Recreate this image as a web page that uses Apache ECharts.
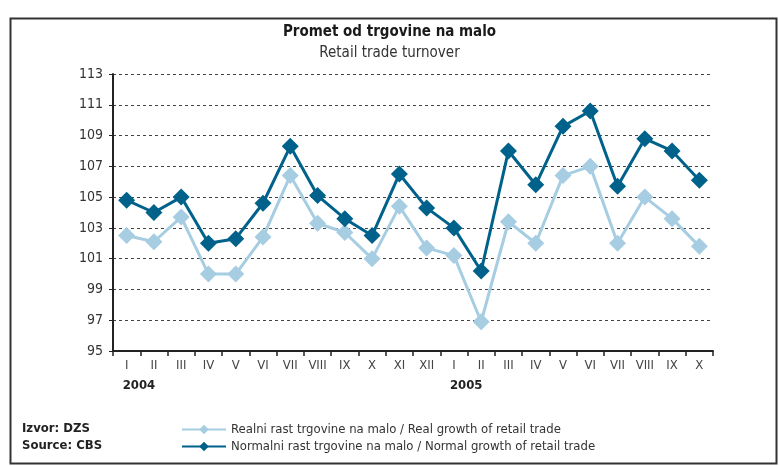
<!DOCTYPE html>
<html>
<head>
<meta charset="utf-8">
<script src="https://cdn.jsdelivr.net/npm/echarts@6/dist/echarts.min.js"></script>
<style>
  html, body { margin: 0; padding: 0; background: #fff; }
  #main { width: 779px; height: 466px; }
</style>
</head>
<body>
<div id="main"></div>
<script>
var months = ['I','II','III','IV','V','VI','VII','VIII','IX','X','XI','XII',
              'I','II','III','IV','V','VI','VII','VIII','IX','X'];
var years = {0: '2004', 12: '2005'};
var realGrowth = [102.5, 102.1, 103.7, 100.0, 100.0, 102.4, 106.4, 103.3, 102.7, 101.0, 104.4, 101.7,
                  101.2, 96.9, 103.4, 102.0, 106.4, 107.0, 102.0, 105.0, 103.6, 101.8];
var normalGrowth = [104.8, 104.0, 105.0, 102.0, 102.3, 104.6, 108.3, 105.1, 103.6, 102.5, 106.5, 104.3,
                    103.0, 100.2, 108.0, 105.8, 109.6, 110.6, 105.7, 108.8, 108.0, 106.1];

var font = '"Liberation Sans Narrow", "DejaVu Sans Condensed", sans-serif';
var lightBlue = '#a6cde1';
var darkBlue = '#00628b';

var myChart = echarts.init(document.getElementById('main'));
myChart.setOption({
  backgroundColor: '#fff',
  animation: false,
  textStyle: { fontFamily: font },
  title: {
    text: 'Promet od trgovine na malo',
    subtext: 'Retail trade turnover',
    left: 'center',
    top: 20,
    itemGap: 6,
    textStyle: { fontFamily: font, fontSize: 15, fontWeight: 'bold', color: '#1a1a1a' },
    subtextStyle: { fontFamily: font, fontSize: 15, color: '#333' }
  },
  grid: { left: 113, right: 66, top: 74, bottom: 115 },
  legend: {
    orient: 'vertical',
    left: 176,
    top: 418,
    itemGap: 4,
    itemWidth: 44,
    itemHeight: 12,
    textStyle: { fontFamily: font, fontSize: 13, color: '#333' },
    data: ['Realni rast trgovine na malo / Real growth of retail trade',
           'Normalni rast trgovine na malo / Normal growth of retail trade']
  },
  xAxis: [{
    type: 'category',
    data: months,
    boundaryGap: true,
    axisLine: { lineStyle: { color: '#222', width: 2 } },
    axisTick: { show: true, length: 5, lineStyle: { color: '#222', width: 1.5 } },
    axisLabel: { color: '#444', fontSize: 13, margin: 8 },
    splitLine: { show: false }
  }, {
    type: 'category',
    data: months,
    position: 'bottom',
    offset: 20,
    boundaryGap: true,
    axisLine: { show: false },
    axisTick: { show: false },
    axisLabel: {
      interval: 0,
      align: 'left',
      padding: [0, 0, 0, -4],
      fontSize: 13,
      fontWeight: 'bold',
      color: '#222',
      margin: 8,
      formatter: function (v, i) { return years[i] || ''; }
    }
  }],
  yAxis: {
    type: 'value',
    min: 95,
    max: 113,
    interval: 2,
    axisLine: { show: true, lineStyle: { color: '#222', width: 2 } },
    axisTick: { show: true, length: 4, lineStyle: { color: '#222' } },
    axisLabel: { color: '#333', fontSize: 14, margin: 10 },
    splitLine: { lineStyle: { color: '#444', type: [3, 3], width: 1 } }
  },
  series: [{
    name: 'Realni rast trgovine na malo / Real growth of retail trade',
    type: 'line',
    data: realGrowth,
    symbol: 'diamond',
    symbolSize: 17,
    itemStyle: { color: lightBlue },
    lineStyle: { color: lightBlue, width: 3 }
  }, {
    name: 'Normalni rast trgovine na malo / Normal growth of retail trade',
    type: 'line',
    data: normalGrowth,
    symbol: 'diamond',
    symbolSize: 17,
    itemStyle: { color: darkBlue },
    lineStyle: { color: darkBlue, width: 3 }
  }],
  graphic: [{
    type: 'rect',
    left: 8, top: 16,
    shape: { width: 766, height: 445 },
    style: { fill: 'none', stroke: '#333', lineWidth: 2 },
    silent: true
  }, {
    type: 'text',
    left: 22, top: 420,
    style: { text: 'Izvor: DZS\nSource: CBS', font: 'bold 13px ' + font, fill: '#222', lineHeight: 17 }
  }]
});
</script>
</body>
</html>
